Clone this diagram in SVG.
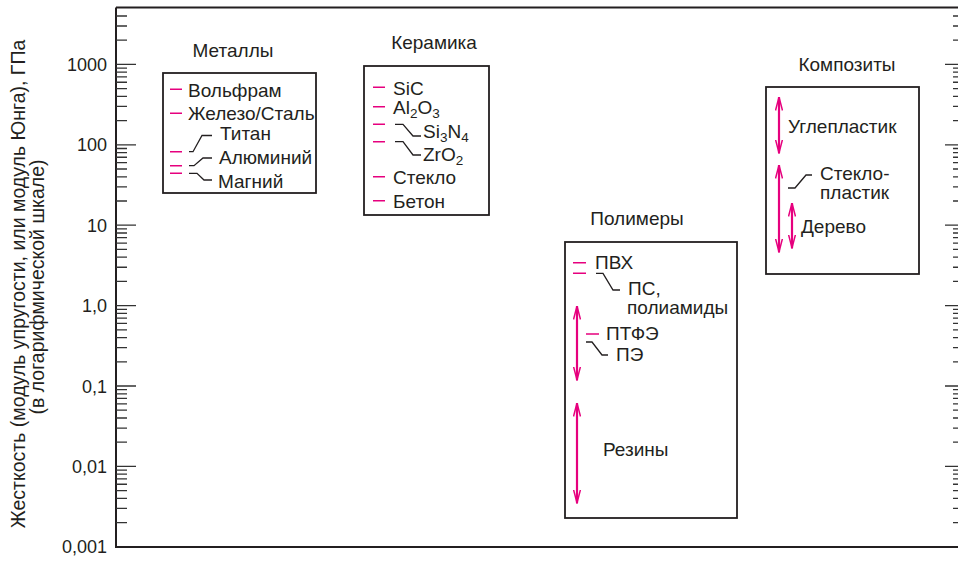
<svg xmlns="http://www.w3.org/2000/svg" xmlns:xlink="http://www.w3.org/1999/xlink" width="958" height="562" viewBox="0 0 958 562">
  <style>
    text { font-family: "Liberation Sans", Arial, sans-serif; font-size: 19px; fill: #231f20; }
    .title { text-anchor: middle; }
    .num { text-anchor: end; font-size: 18px; }
    .ylab { text-anchor: middle; font-size: 19.5px; }
    .sub { font-size: 13.5px; }
    .box { fill: none; stroke: #231f20; stroke-width: 1.8; }
    .axis { fill: none; stroke: #231f20; stroke-width: 2; }
    .tick { fill: none; stroke: #333; stroke-width: 1.3; }
    .dash { fill: none; stroke: #e6007e; stroke-width: 1.5; }
    .lead { fill: none; stroke: #231f20; stroke-width: 1.3; }
    .range { fill: none; stroke: #e6007e; stroke-width: 2.2; marker-start: url(#ah); marker-end: url(#ah); }
  </style>
  <defs>
    <marker id="ah" viewBox="0 0 14 8" refX="13.5" refY="4" markerWidth="14" markerHeight="8" markerUnits="userSpaceOnUse" orient="auto-start-reverse">
      <path d="M0,0.5 L13.5,4 L0,7.5" fill="none" stroke="#e6007e" stroke-width="1.5"/>
    </marker>
    <!-- minor ticks for one decade (2..9), measured upward from the decade base -->
    <path id="decL" class="tick" d="M116,-24.2H127M116,-38.36H127M116,-48.41H127M116,-56.2H127M116,-62.56H127M116,-67.95H127M116,-72.61H127M116,-76.72H127"/>
    <path id="decR" class="tick" d="M953,-24.2H958M953,-38.36H958M953,-48.41H958M953,-56.2H958M953,-62.56H958M953,-67.95H958M953,-72.61H958M953,-76.72H958"/>
  </defs>

  <!-- log scale frame -->
  <g id="axis">
    <path class="axis" d="M116,7.5H958M116,7.5V547H958"/>
    <path class="tick" d="M116,64.4H136M116,144.8H136M116,225.2H136M116,305.6H136M116,386H136M116,466.4H136"/>
    <path class="tick" d="M945,64.4H958M945,144.8H958M945,225.2H958M945,305.6H958M945,386H958M945,466.4H958"/>
    <use xlink:href="#decL" y="546.8"/>
    <use xlink:href="#decL" y="466.4"/>
    <use xlink:href="#decL" y="386"/>
    <use xlink:href="#decL" y="305.6"/>
    <use xlink:href="#decL" y="225.2"/>
    <use xlink:href="#decL" y="144.8"/>
    <path class="tick" d="M116,40.2H127M116,26H127M116,16H127"/>
    <use xlink:href="#decR" y="546.8"/>
    <use xlink:href="#decR" y="466.4"/>
    <use xlink:href="#decR" y="386"/>
    <use xlink:href="#decR" y="305.6"/>
    <use xlink:href="#decR" y="225.2"/>
    <use xlink:href="#decR" y="144.8"/>
    <path class="tick" d="M953,40.2H958M953,26H958M953,16H958"/>
    <text class="num" x="107" y="71">1000</text>
    <text class="num" x="107" y="151">100</text>
    <text class="num" x="107" y="232">10</text>
    <text class="num" x="107" y="312">1,0</text>
    <text class="num" x="107" y="393">0,1</text>
    <text class="num" x="107" y="473">0,01</text>
    <text class="num" x="107" y="553">0,001</text>
    <text class="ylab" transform="translate(25,284) rotate(-90)">Жесткость (модуль упругости, или модуль Юнга), ГПа</text>
    <text class="ylab" transform="translate(44,287) rotate(-90)">(в логарифмической шкале)</text>
  </g>

  <g id="metals">
    <text class="title" x="233" y="57">Металлы</text>
    <rect class="box" x="163" y="73" width="153" height="120"/>
    <path class="dash" d="M170,89.3H182M170,113.3H182M170,151.7H182M170,165.7H182M170,173.3H182"/>
    <path class="lead" d="M189,151.7H193L202,135.5H212M189,165.7H194L203,158H212M189,173.3H197L204,180H212"/>
    <text x="188" y="97">Вольфрам</text>
    <text x="188" y="120">Железо/Сталь</text>
    <text x="220" y="140">Титан</text>
    <text x="219" y="164">Алюминий</text>
    <text x="218" y="188">Магний</text>
  </g>

  <g id="ceramics">
    <text class="title" x="434" y="49">Керамика</text>
    <rect class="box" x="364" y="66" width="125" height="149"/>
    <path class="dash" d="M373,87.3H385M373,106.7H385M373,124.3H385M373,141.7H385M373,176.7H385M373,200.7H385"/>
    <path class="lead" d="M395,124.3H403L413,136H421M395,141.7H403L413,155H421"/>
    <text x="393" y="95">SiC</text>
    <text x="393" y="114">Al<tspan class="sub" dy="4">2</tspan><tspan dy="-4">O</tspan><tspan class="sub" dy="4">3</tspan></text>
    <text x="423" y="138">Si<tspan class="sub" dy="4">3</tspan><tspan dy="-4">N</tspan><tspan class="sub" dy="4">4</tspan></text>
    <text x="423" y="161">ZrO<tspan class="sub" dy="4">2</tspan></text>
    <text x="393" y="184">Стекло</text>
    <text x="393" y="208">Бетон</text>
  </g>

  <g id="polymers">
    <text class="title" x="637" y="225">Полимеры</text>
    <rect class="box" x="565" y="242" width="172" height="276"/>
    <path class="dash" d="M573,262.7H586M573,273.3H586M586,334H599"/>
    <path class="lead" d="M596,273.3H603L613,290H620M586,342H592L602,355H608"/>
    <text x="595" y="269">ПВХ</text>
    <text x="628" y="295">ПС,</text>
    <text x="627" y="314">полиамиды</text>
    <text x="606" y="340">ПТФЭ</text>
    <text x="616" y="361">ПЭ</text>
    <text x="603" y="456">Резины</text>
  </g>

  <g id="composites">
    <text class="title" x="847" y="71">Композиты</text>
    <rect class="box" x="766" y="87" width="153" height="187"/>
    <path class="lead" d="M788,188H795L806,175H812"/>
    <text x="788" y="133">Углепластик</text>
    <text x="820" y="180">Стекло-</text>
    <text x="820" y="199">пластик</text>
    <text x="801" y="233">Дерево</text>
  </g>

  <!-- magenta ranges with arrowheads at both ends -->
  <g id="connectors">
    <path class="range" d="M577,306V380"/>
    <path class="range" d="M577,403V503"/>
    <path class="range" d="M779,97V153"/>
    <path class="range" d="M779,165V252"/>
    <path class="range" d="M792,203V248"/>
  </g>
</svg>
